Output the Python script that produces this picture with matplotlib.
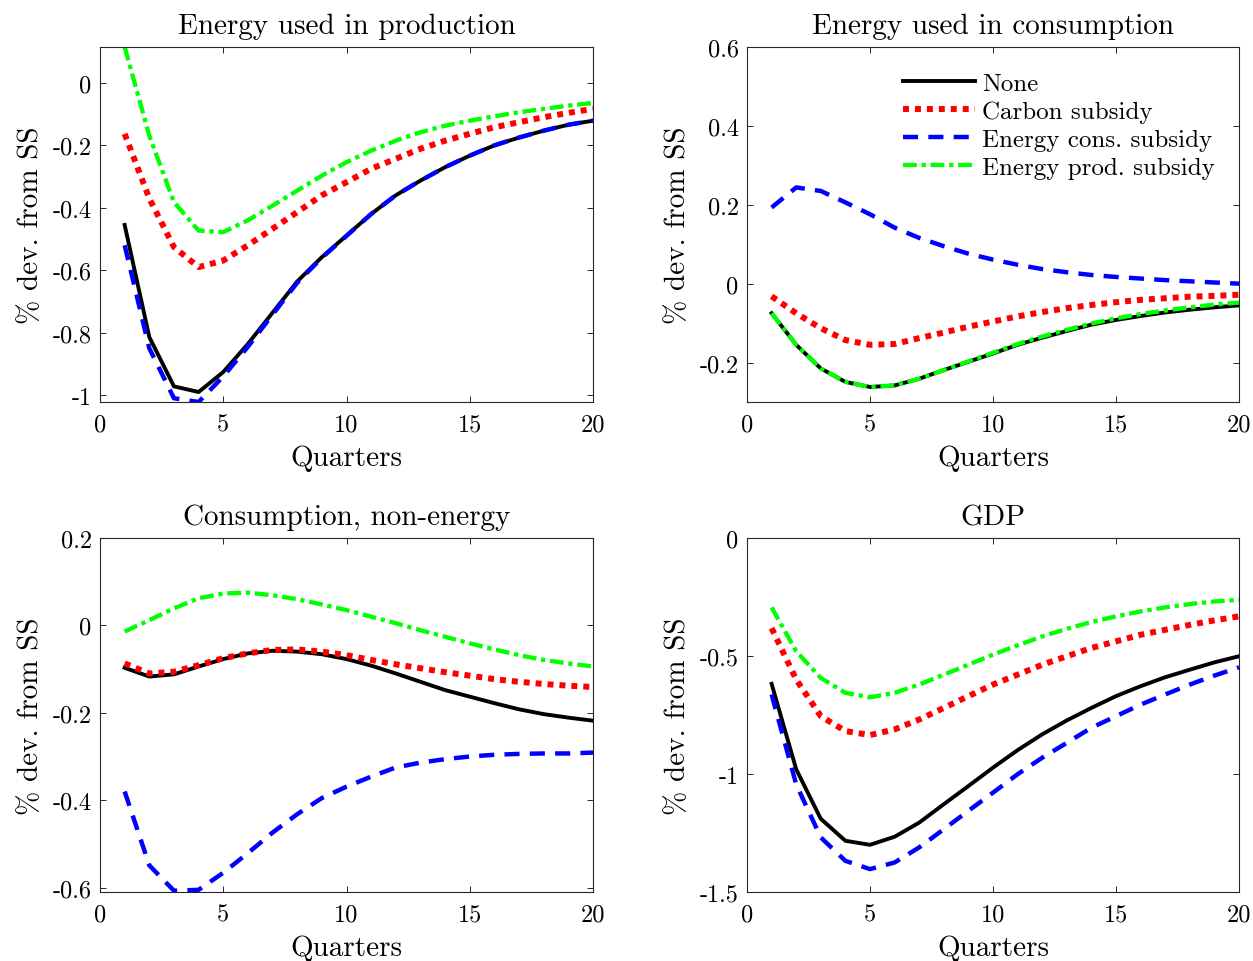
import matplotlib
matplotlib.use("Agg")
import matplotlib.pyplot as plt

plt.rcParams['font.family'] = ['cmr10', 'DejaVu Serif']
plt.rcParams['axes.unicode_minus'] = False
plt.rcParams['mathtext.fontset'] = 'cm'

quarters = list(range(1, 21))

# Energy used in production
prod_none = [-0.455, -0.814, -0.972, -0.990, -0.926, -0.836, -0.736, -0.636, -0.558, -0.489,
             -0.420, -0.360, -0.313, -0.270, -0.233, -0.200, -0.175, -0.153, -0.134, -0.121]
prod_carbon = [-0.163, -0.370, -0.526, -0.590, -0.569, -0.520, -0.467, -0.414, -0.360, -0.318,
               -0.275, -0.243, -0.211, -0.185, -0.163, -0.142, -0.126, -0.110, -0.096, -0.083]
prod_econs = [-0.520, -0.850, -1.010, -1.022, -0.940, -0.845, -0.742, -0.640, -0.560, -0.490,
              -0.420, -0.360, -0.313, -0.270, -0.233, -0.200, -0.175, -0.153, -0.134, -0.121]
prod_eprod = [0.115, -0.169, -0.382, -0.473, -0.478, -0.440, -0.393, -0.345, -0.297, -0.254,
              -0.217, -0.185, -0.158, -0.137, -0.121, -0.107, -0.094, -0.083, -0.073, -0.064]

# Energy used in consumption
cons_none = [-0.075, -0.155, -0.215, -0.249, -0.262, -0.258, -0.241, -0.219, -0.198, -0.177,
             -0.155, -0.137, -0.120, -0.104, -0.092, -0.082, -0.073, -0.066, -0.060, -0.055]
cons_carbon = [-0.032, -0.075, -0.113, -0.143, -0.155, -0.153, -0.138, -0.124, -0.109, -0.096,
               -0.083, -0.072, -0.062, -0.054, -0.047, -0.041, -0.037, -0.033, -0.031, -0.028]
cons_econs = [0.193, 0.244, 0.235, 0.206, 0.176, 0.142, 0.116, 0.095, 0.076, 0.061,
              0.048, 0.037, 0.029, 0.022, 0.017, 0.013, 0.009, 0.006, 0.003, 0.000]
cons_eprod = [-0.075, -0.155, -0.215, -0.249, -0.262, -0.258, -0.241, -0.219, -0.197, -0.175,
              -0.153, -0.134, -0.117, -0.101, -0.088, -0.077, -0.068, -0.060, -0.053, -0.048]

# Consumption, non-energy
nonen_none = [-0.097, -0.117, -0.112, -0.094, -0.077, -0.064, -0.058, -0.060, -0.066, -0.077,
              -0.092, -0.110, -0.129, -0.148, -0.163, -0.178, -0.192, -0.203, -0.211, -0.218]
nonen_carbon = [-0.087, -0.110, -0.106, -0.091, -0.075, -0.064, -0.056, -0.055, -0.060, -0.068,
                -0.079, -0.089, -0.098, -0.107, -0.115, -0.123, -0.129, -0.134, -0.138, -0.141]
nonen_econs = [-0.380, -0.549, -0.607, -0.605, -0.566, -0.521, -0.474, -0.432, -0.395, -0.369,
               -0.346, -0.325, -0.314, -0.306, -0.300, -0.296, -0.294, -0.293, -0.293, -0.291]
nonen_eprod = [-0.014, 0.012, 0.039, 0.062, 0.073, 0.075, 0.069, 0.060, 0.048, 0.035,
               0.020, 0.005, -0.011, -0.026, -0.041, -0.055, -0.068, -0.079, -0.087, -0.094]

# GDP
gdp_none = [-0.618, -0.980, -1.190, -1.283, -1.300, -1.266, -1.206, -1.128, -1.051, -0.973,
            -0.899, -0.832, -0.773, -0.720, -0.670, -0.628, -0.590, -0.558, -0.527, -0.501]
gdp_carbon = [-0.382, -0.600, -0.755, -0.818, -0.835, -0.811, -0.769, -0.720, -0.670, -0.621,
              -0.579, -0.537, -0.501, -0.466, -0.438, -0.410, -0.389, -0.368, -0.349, -0.332]
gdp_econs = [-0.663, -1.044, -1.269, -1.368, -1.403, -1.375, -1.311, -1.234, -1.156, -1.079,
             -1.001, -0.931, -0.868, -0.804, -0.755, -0.706, -0.663, -0.621, -0.583, -0.548]
gdp_eprod = [-0.294, -0.480, -0.593, -0.656, -0.675, -0.656, -0.621, -0.579, -0.537, -0.494,
             -0.455, -0.417, -0.385, -0.356, -0.332, -0.311, -0.294, -0.280, -0.269, -0.262]

titles = ['Energy used in production', 'Energy used in consumption',
          'Consumption, non-energy', 'GDP']
series_names = ['None', 'Carbon subsidy', 'Energy cons. subsidy', 'Energy prod. subsidy']
panels = [
    (prod_none, prod_carbon, prod_econs, prod_eprod),
    (cons_none, cons_carbon, cons_econs, cons_eprod),
    (nonen_none, nonen_carbon, nonen_econs, nonen_eprod),
    (gdp_none, gdp_carbon, gdp_econs, gdp_eprod),
]
ylims = [(-1.022, 0.115), (-0.3, 0.6), (-0.61, 0.2), (-1.5, 0.0)]
yticks = [[-1, -0.8, -0.6, -0.4, -0.2, 0],
          [-0.2, 0, 0.2, 0.4, 0.6],
          [-0.6, -0.4, -0.2, 0, 0.2],
          [-1.5, -1, -0.5, 0]]
ytick_labels = [['-1', '-0.8', '-0.6', '-0.4', '-0.2', '0'],
                ['-0.2', '0', '0.2', '0.4', '0.6'],
                ['-0.6', '-0.4', '-0.2', '0', '0.2'],
                ['-1.5', '-1', '-0.5', '0']]
xticks = [0, 5, 10, 15, 20]

styles = [
    dict(color='black', lw=2.8, ls='-'),
    dict(color='red', lw=4.3, ls=(0, (1, 1)), dash_capstyle='butt'),
    dict(color='blue', lw=3.2, ls=(0, (3.4, 2.3))),
    dict(color=(0, 1, 0), lw=3.1, ls=(0, (3.2, 1.1, 1.0, 1.1))),
]

fig = plt.figure(figsize=(12.53, 9.62), dpi=100)
positions = [
    [100 / 1253, 1 - 403 / 962, 493 / 1253, 355 / 962],
    [747 / 1253, 1 - 403 / 962, 492 / 1253, 355 / 962],
    [100 / 1253, 1 - 893 / 962, 493 / 1253, 354 / 962],
    [747 / 1253, 1 - 893 / 962, 492 / 1253, 354 / 962],
]

spine_col = (0.15, 0.15, 0.15)
for i in range(4):
    ax = fig.add_axes(positions[i])
    for data, st, name in zip(panels[i], styles, series_names):
        ax.plot(quarters, data, label=name, **st)
    ax.set_xlim(0, 20)
    ax.set_ylim(*ylims[i])
    ax.set_xticks(xticks)
    ax.set_xticklabels([str(t) for t in xticks])
    ax.set_yticks(yticks[i])
    ax.set_yticklabels(ytick_labels[i])
    ax.tick_params(direction='in', top=True, right=True, length=4.5, width=0.7,
                   color=spine_col, labelsize=17.5)
    ax.tick_params(axis='x', pad=8)
    ax.tick_params(axis='y', pad=6)
    for sp in ax.spines.values():
        sp.set_color(spine_col)
        sp.set_linewidth(0.8)
    ax.set_title(titles[i], fontsize=21, pad=10)
    ax.set_xlabel('Quarters', fontsize=21, labelpad=7)
    ax.set_ylabel('% dev. from SS', fontsize=21, labelpad=6)
    if i == 1:
        ax.legend(loc='upper left', bbox_to_anchor=(0.317, 0.929), frameon=False,
                  fontsize=18, borderpad=0, borderaxespad=0, handlelength=2.9,
                  handletextpad=0.25, labelspacing=0.22)

fig.savefig('out.png', dpi=100)
